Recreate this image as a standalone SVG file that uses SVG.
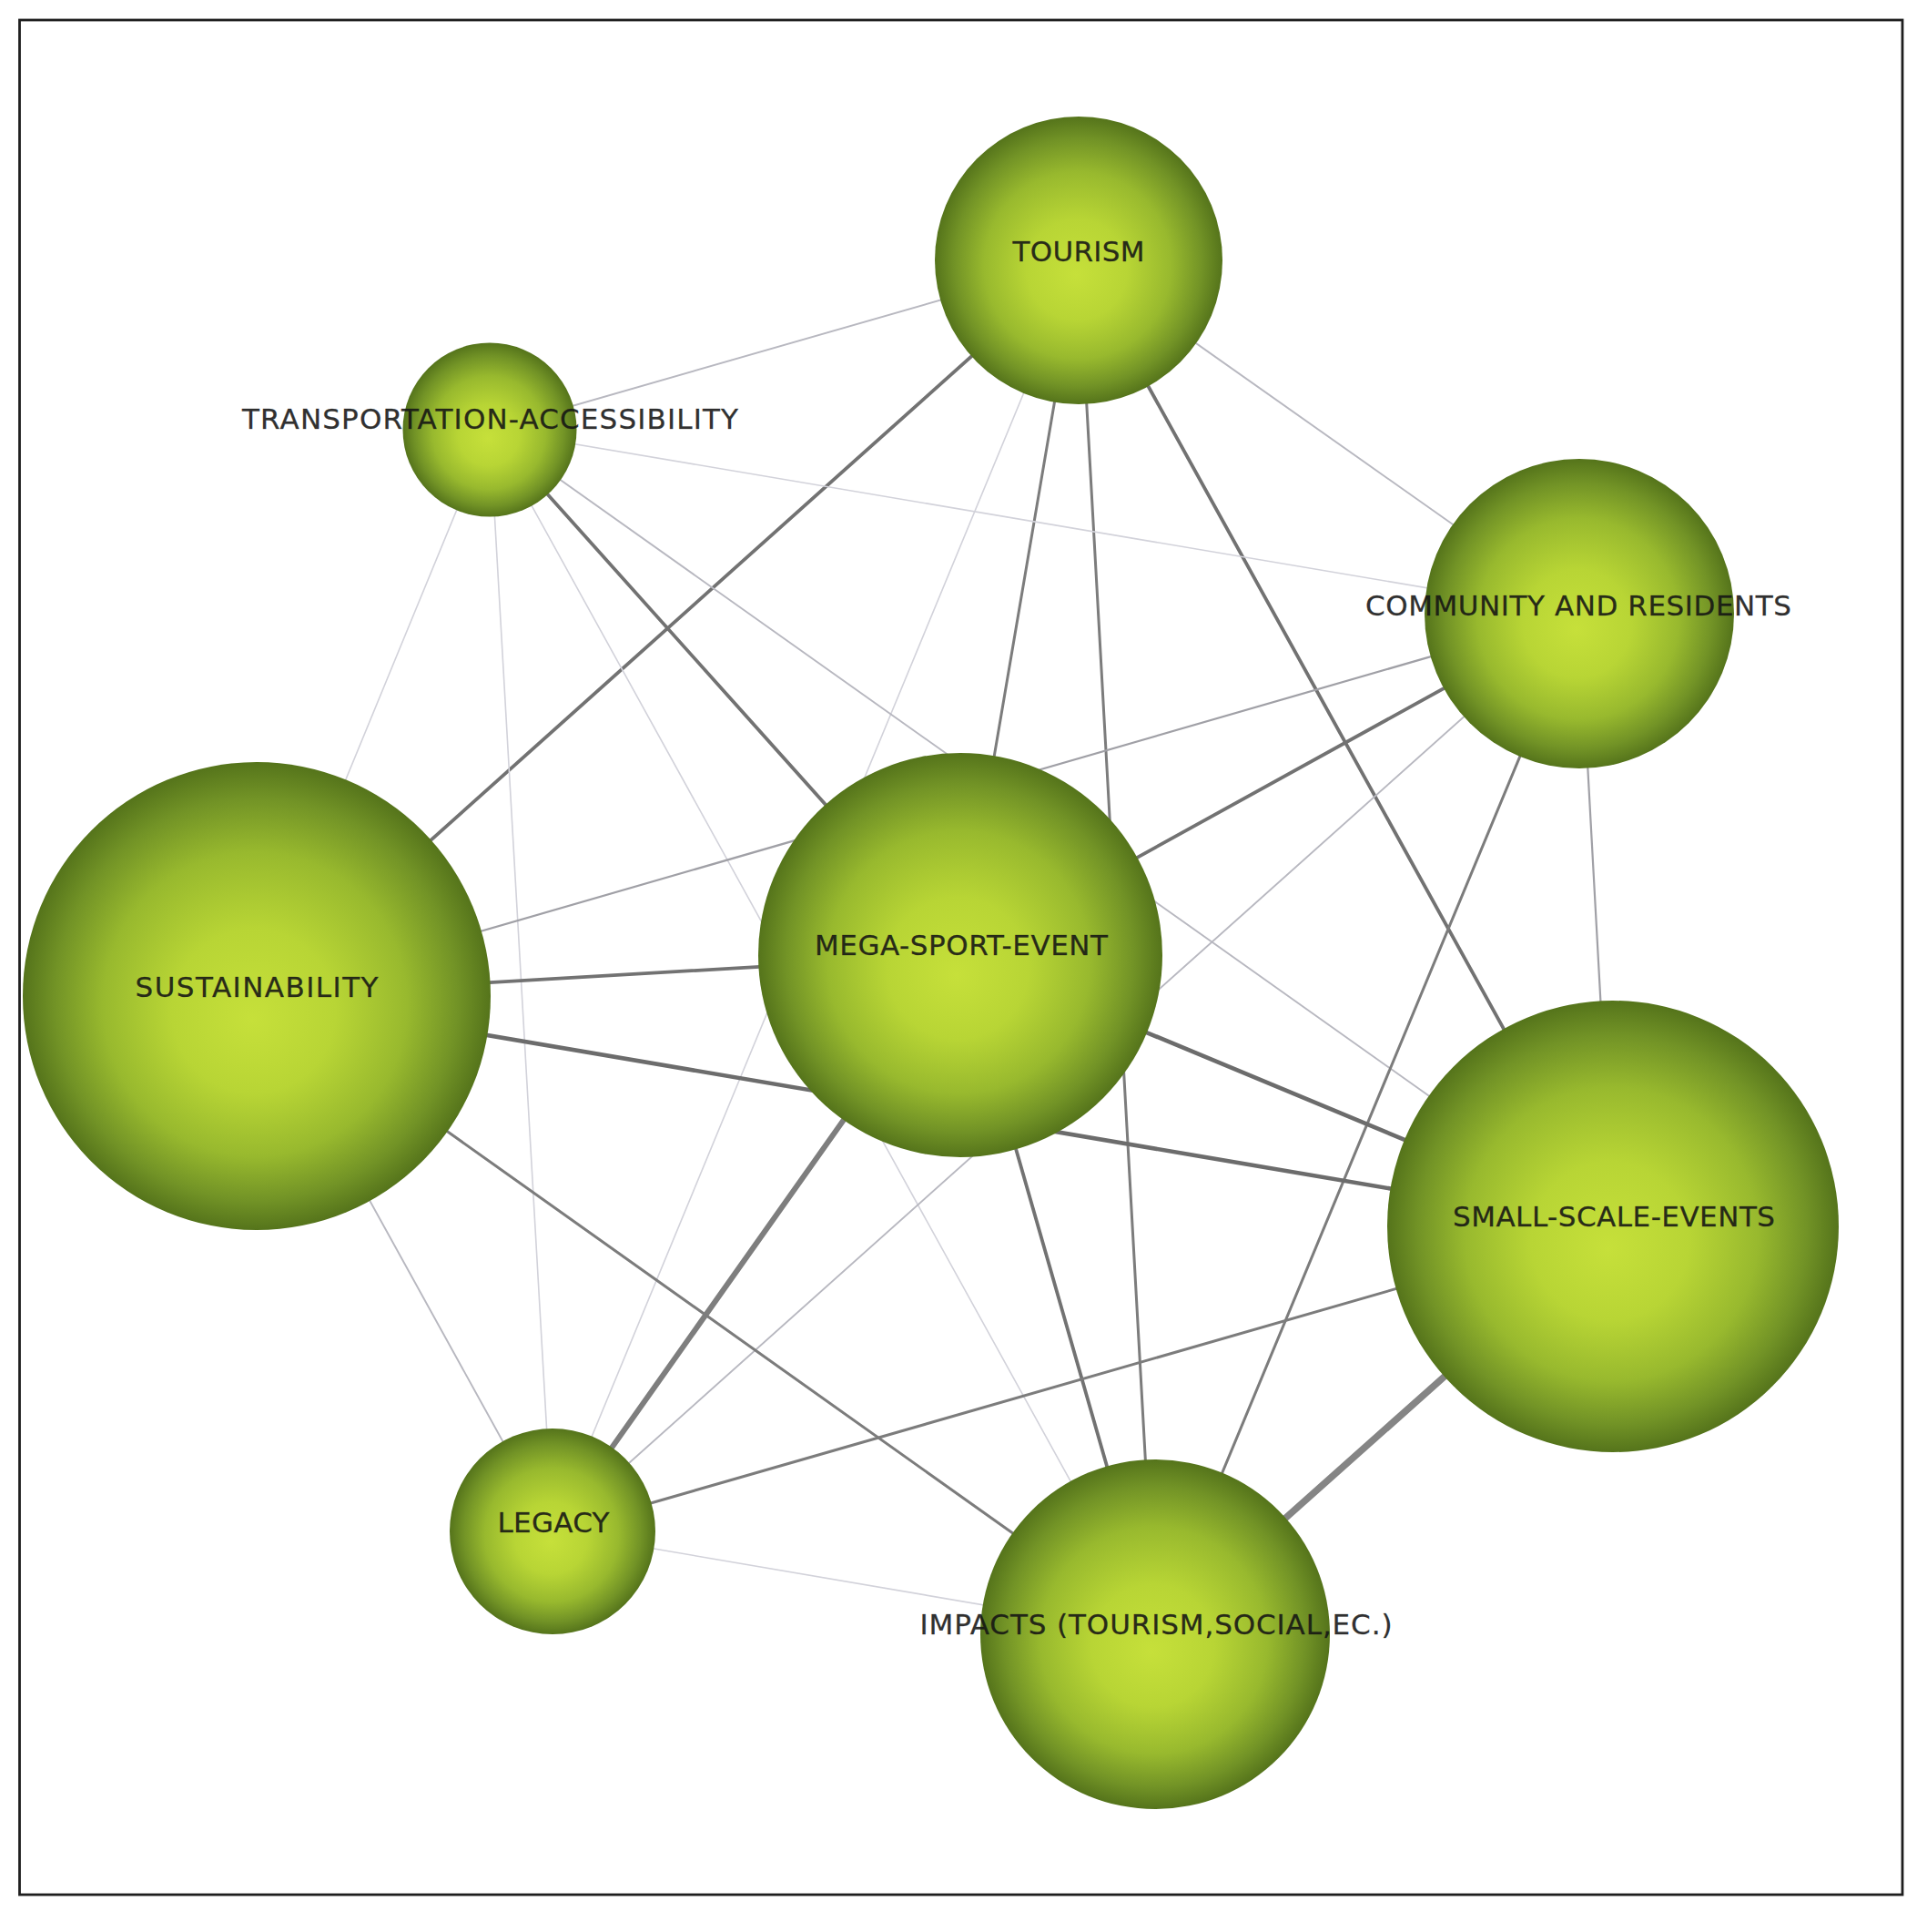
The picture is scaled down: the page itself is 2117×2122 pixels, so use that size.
<svg xmlns="http://www.w3.org/2000/svg" width="2117" height="2122" viewBox="0 0 2117 2122">
<defs>
<radialGradient id="ball" cx="50%" cy="50%" r="50%" fx="49%" fy="55%">
<stop offset="0%" stop-color="#c6e03a"/>
<stop offset="35%" stop-color="#b8d535"/>
<stop offset="65%" stop-color="#98b92e"/>
<stop offset="86%" stop-color="#729326"/>
<stop offset="100%" stop-color="#55741b"/>
</radialGradient>
<style>
.node{fill:url(#ball);}
.lbl{font-family:"DejaVu Sans","Verdana",sans-serif;font-size:31px;fill:#141414;fill-opacity:0.9;stroke:#141414;stroke-opacity:0.5;stroke-width:0.5;text-anchor:middle;}
.e{stroke-linecap:round;fill:none;}
.w1{stroke:#d2d2da;stroke-width:1.6;}
.w2{stroke:#b8b8c0;stroke-width:1.9;}
.w3{stroke:#a0a0a6;stroke-width:2.2;}
.w4{stroke:#7c7c7c;stroke-width:3;}
.w5{stroke:#727272;stroke-width:3.8;}
.w6{stroke:#6c6c6c;stroke-width:4.6;}
.w7{stroke:#7e7e7e;stroke-width:6;}
.w8{stroke:#858585;stroke-width:7.5;}
</style>
</defs>
<rect x="0" y="0" width="2117" height="2122" fill="#ffffff"/>
<rect x="21.5" y="22" width="2068.5" height="2059" fill="none" stroke="#1e1e1e" stroke-width="2.8"/>
<g id="connectors">
<line class="e w2" x1="1185" y1="286" x2="538" y2="472"/>
<line class="e w5" x1="1185" y1="286" x2="282" y2="1094"/>
<line class="e w4" x1="1185" y1="286" x2="1055" y2="1049"/>
<line class="e w4" x1="1185" y1="286" x2="1269" y2="1795"/>
<line class="e w5" x1="1185" y1="286" x2="1772" y2="1347"/>
<line class="e w2" x1="1185" y1="286" x2="1735" y2="674"/>
<line class="e w1" x1="1185" y1="286" x2="607" y2="1682"/>
<line class="e w1" x1="538" y1="472" x2="282" y2="1094"/>
<line class="e w1" x1="538" y1="472" x2="607" y2="1682"/>
<line class="e w5" x1="538" y1="472" x2="1055" y2="1049"/>
<line class="e w1" x1="538" y1="472" x2="1269" y2="1795"/>
<line class="e w2" x1="538" y1="472" x2="1772" y2="1347"/>
<line class="e w1" x1="538" y1="472" x2="1735" y2="674"/>
<line class="e w3" x1="1735" y1="674" x2="282" y2="1094"/>
<line class="e w5" x1="1735" y1="674" x2="1055" y2="1049"/>
<line class="e w2" x1="1735" y1="674" x2="607" y2="1682"/>
<line class="e w3" x1="1735" y1="674" x2="1772" y2="1347"/>
<line class="e w4" x1="1735" y1="674" x2="1269" y2="1795"/>
<line class="e w5" x1="282" y1="1094" x2="1055" y2="1049"/>
<line class="e w6" x1="282" y1="1094" x2="1772" y2="1347"/>
<line class="e w4" x1="282" y1="1094" x2="1269" y2="1795"/>
<line class="e w2" x1="282" y1="1094" x2="607" y2="1682"/>
<line class="e w6" x1="1055" y1="1049" x2="1772" y2="1347"/>
<line class="e w5" x1="1055" y1="1049" x2="1269" y2="1795"/>
<line class="e w7" x1="1055" y1="1049" x2="607" y2="1682"/>
<line class="e w4" x1="1772" y1="1347" x2="607" y2="1682"/>
<line class="e w8" x1="1772" y1="1347" x2="1269" y2="1795"/>
<line class="e w1" x1="607" y1="1682" x2="1269" y2="1795"/>
</g>
<g id="node-tourism">
<circle class="node" cx="1185" cy="286" r="158"/>
<text class="lbl" x="1185" y="287" textLength="145" lengthAdjust="spacing">TOURISM</text>
</g>
<g id="node-transportation-accessibility">
<circle class="node" cx="538" cy="472" r="95.5"/>
<text class="lbl" x="538.5" y="471" textLength="545" lengthAdjust="spacing">TRANSPORTATION-ACCESSIBILITY</text>
</g>
<g id="node-community-and-residents">
<circle class="node" cx="1735" cy="674" r="170"/>
<text class="lbl" x="1734" y="676" textLength="468" lengthAdjust="spacing">COMMUNITY AND RESIDENTS</text>
</g>
<g id="node-sustainability">
<circle class="node" cx="282" cy="1094" r="257"/>
<text class="lbl" x="282" y="1095" textLength="267" lengthAdjust="spacing">SUSTAINABILITY</text>
</g>
<g id="node-mega-sport-event">
<circle class="node" cx="1055" cy="1049" r="222"/>
<text class="lbl" x="1056" y="1049" textLength="322" lengthAdjust="spacing">MEGA-SPORT-EVENT</text>
</g>
<g id="node-small-scale-events">
<circle class="node" cx="1772" cy="1347" r="248"/>
<text class="lbl" x="1773" y="1347" textLength="354" lengthAdjust="spacing">SMALL-SCALE-EVENTS</text>
</g>
<g id="node-legacy">
<circle class="node" cx="607" cy="1682" r="113"/>
<text class="lbl" x="608" y="1683" textLength="123" lengthAdjust="spacing">LEGACY</text>
</g>
<g id="node-impacts">
<circle class="node" cx="1269" cy="1795" r="192"/>
<text class="lbl" x="1270" y="1795" textLength="519" lengthAdjust="spacing">IMPACTS (TOURISM,SOCIAL,EC.)</text>
</g>
</svg>
